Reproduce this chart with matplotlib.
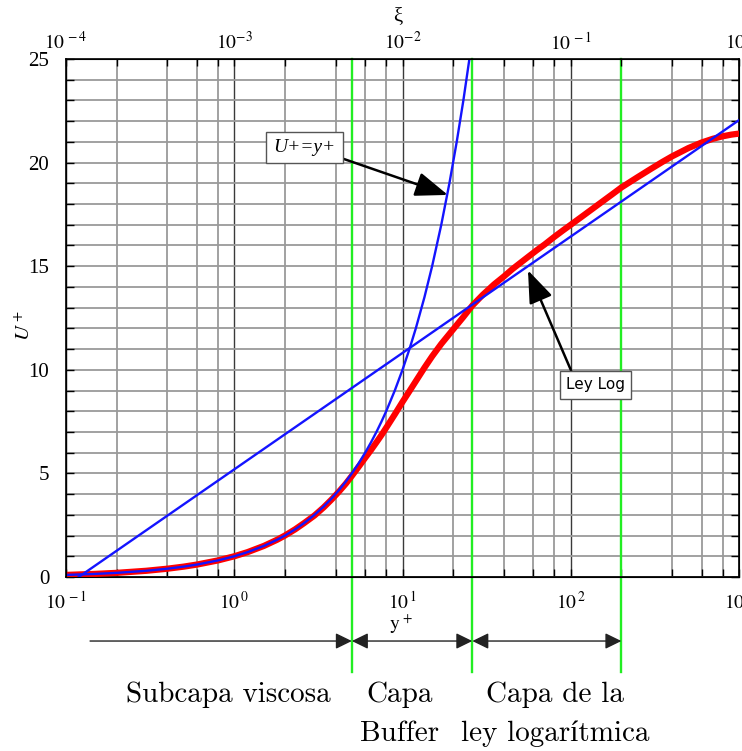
import matplotlib.pyplot as plt
from matplotlib.ticker import LogLocator, MultipleLocator, NullFormatter
from matplotlib.patches import ArrowStyle

plt.rcParams['font.family'] = ['Liberation Serif', 'DejaVu Serif']
plt.rcParams['mathtext.fontset'] = 'stix'

# ley de la pared U+ = y+ (subcapa viscosa)
yp_visc = [0.1, 0.15, 0.2, 0.3, 0.4, 0.5, 0.6, 0.8, 1, 1.2, 1.5, 1.8, 2, 2.3, 2.6, 3, 3.4,
           3.8, 4.2, 4.6, 5, 5.5, 6, 6.5, 7, 7.5, 8, 9, 10, 11, 12, 13.5, 15, 17, 19, 21,
           23, 25.5]
u_visc = [0.1, 0.15, 0.2, 0.3, 0.4, 0.5, 0.6, 0.8, 1, 1.2, 1.5, 1.8, 2, 2.3, 2.6, 3, 3.4,
          3.8, 4.2, 4.6, 5, 5.5, 6, 6.5, 7, 7.5, 8, 9, 10, 11, 12, 13.5, 15, 17, 19, 21,
          23, 25.5]

# ley logaritmica (recta en escala log)
yp_log = [0.119, 1000]
u_log = [0.0, 22.05]

# perfil de velocidad medido
yp_perfil = [0.1, 0.15, 0.2, 0.3, 0.4, 0.5, 0.6, 0.8, 1, 1.2, 1.5, 1.8, 2, 2.3, 2.6, 3,
             3.4, 3.8, 4.2, 4.6, 5, 5.5, 6, 6.5, 7, 7.5, 8, 9, 10, 11, 12, 13.5, 15, 17,
             20, 23, 26, 30, 35, 40, 45, 50, 56, 63, 70, 80, 90, 100, 120, 150, 175, 200,
             250, 300, 350, 400, 500, 600, 700, 800, 900, 1000]
u_perfil = [0.1, 0.15, 0.2, 0.3, 0.4, 0.5, 0.6, 0.8, 1.0, 1.2, 1.5, 1.8, 2.0, 2.3, 2.6,
            2.97, 3.36, 3.75, 4.13, 4.5, 4.88, 5.33, 5.75, 6.13, 6.5, 6.85, 7.2, 7.85,
            8.45, 8.97, 9.45, 10.1, 10.65, 11.25, 11.95, 12.55, 13.1, 13.62, 14.12,
            14.5, 14.86, 15.15, 15.46, 15.78, 16.05, 16.42, 16.73, 17.0, 17.47, 18.05,
            18.45, 18.8, 19.3, 19.7, 20.03, 20.3, 20.7, 20.97, 21.15, 21.27, 21.35, 21.4]

# limites entre capas
limites = [5, 26, 200]
inicio_viscosa = 0.139

x_ticks = [0.1, 1, 10, 100, 1000]
x_labels = [r'$10^{\,-1}$', r'$10^{\,0}$', r'$10^{\,1}$', r'$10^{\,2}$', r'$10^{\,3}$']
xi_ticks = [1e-4, 1e-3, 1e-2, 1e-1, 1]
xi_labels = [r'$10^{\,-4}$', r'$10^{-3}$', r'$10^{-2}$', r'$10^{\,-1}$', r'$10^{0}$']

fig = plt.figure(figsize=(7.42, 7.51), dpi=100)
ax = fig.add_axes([66 / 742, 174 / 751, 673 / 742, 518 / 751])

ax.plot(yp_perfil, u_perfil, color='#ff0000', lw=4.5, solid_capstyle='round',
        solid_joinstyle='round', zorder=3)
ax.plot(yp_visc, u_visc, color='#1414ff', lw=1.7, zorder=4)
ax.plot(yp_log, u_log, color='#1414ff', lw=1.7, zorder=4)

ax.set_xscale('log')
ax.set_xlim(0.1, 1000)
ax.set_ylim(0, 25)
ax.set_xticks(x_ticks)
ax.set_xticklabels(x_labels, fontsize=14)
ax.xaxis.set_minor_locator(LogLocator(base=10, subs=[2, 4, 6, 8]))
ax.xaxis.set_minor_formatter(NullFormatter())
ax.yaxis.set_major_locator(MultipleLocator(5))
ax.yaxis.set_minor_locator(MultipleLocator(1))
ax.tick_params(axis='y', labelsize=15, pad=12)
ax.tick_params(axis='x', pad=10)
ax.tick_params(which='both', direction='in', top=False, right=True, length=6, width=1)

# rejilla
ax.grid(which='major', axis='x', color='#3a3a3a', lw=1.0)
ax.grid(which='minor', axis='x', color='#9a9a9a', lw=1.3)
ax.grid(which='both', axis='y', color='#9a9a9a', lw=1.3)
ax.set_axisbelow(True)
for s in ax.spines.values():
    s.set_linewidth(1.2)

# eje superior xi
ax2 = ax.twiny()
ax2.set_xscale('log')
ax2.set_xlim(1e-4, 1)
ax2.set_xticks(xi_ticks)
ax2.set_xticklabels(xi_labels, fontsize=14)
ax2.xaxis.set_minor_locator(LogLocator(base=10, subs=[2, 4, 6, 8]))
ax2.xaxis.set_minor_formatter(NullFormatter())
ax2.tick_params(which='both', direction='in', length=5, width=1, pad=4)

fig.text(398 / 742, 1 - 17 / 751, 'ξ', ha='center', va='center', fontsize=15)
ax.text(-0.061, 0.486, r'$U^+$', transform=ax.transAxes, rotation=90,
        ha='center', va='center', fontsize=15)
fig.text(401 / 742, 1 - 624 / 751, r'$\mathrm{y}^{\,+}$', ha='center', va='center', fontsize=14)

# lineas verdes de separacion
trans = ax.get_xaxis_transform()
for x0 in limites:
    ax.plot([x0, x0], [-0.183, 1], transform=trans, color='#22ee22', lw=1.7,
            clip_on=False, zorder=2.5)

# flechas de las capas
y_fl = -0.1236
punta = ArrowStyle('-|>', head_length=0.45, head_width=0.22)
doble = ArrowStyle('<|-|>', head_length=0.45, head_width=0.22)
ax.annotate('', xy=(limites[0], y_fl), xytext=(inicio_viscosa, y_fl), xycoords=trans,
            textcoords=trans, annotation_clip=False,
            arrowprops=dict(arrowstyle=punta, color='#222222', lw=1, mutation_scale=22,
                            shrinkA=0, shrinkB=0))
ax.annotate('', xy=(limites[1], y_fl), xytext=(limites[0], y_fl), xycoords=trans,
            textcoords=trans, annotation_clip=False,
            arrowprops=dict(arrowstyle=doble, color='#222222', lw=1, mutation_scale=22,
                            shrinkA=0, shrinkB=0))
ax.annotate('', xy=(limites[2], y_fl), xytext=(limites[1], y_fl), xycoords=trans,
            textcoords=trans, annotation_clip=False,
            arrowprops=dict(arrowstyle=doble, color='#222222', lw=1, mutation_scale=22,
                            shrinkA=0, shrinkB=0))

# etiquetas con flecha
grande = ArrowStyle('-|>', head_length=0.8, head_width=0.3)
ax.annotate('U+=y+', xy=(18.6, 18.44), xytext=(2.6, 20.73), fontsize=14,
            style='italic', ha='center', va='center', zorder=6,
            bbox=dict(boxstyle='square,pad=0.38', fc='white', ec='#555555', lw=1),
            arrowprops=dict(arrowstyle=grande, color='black', lw=1.8, mutation_scale=25,
                            relpos=(1, 0), shrinkA=0, shrinkB=0))
ax.annotate('Ley Log', xy=(55.7, 14.8), xytext=(141, 9.27), fontsize=11,
            family='DejaVu Sans', ha='center', va='center', zorder=6,
            bbox=dict(boxstyle='square,pad=0.4', fc='white', ec='#555555', lw=1),
            arrowprops=dict(arrowstyle=grande, color='black', lw=1.8, mutation_scale=25,
                            relpos=(0.13, 1), shrinkA=0, shrinkB=0))

# nombres de las capas
fuente = ['cmr10', 'Liberation Serif']
fig.text(228 / 742, 1 - 695 / 751, 'Subcapa viscosa', ha='center', va='center',
         fontsize=21, family=fuente)
fig.text(400 / 742, 1 - 695 / 751, 'Capa', ha='center', va='center', fontsize=21, family=fuente)
fig.text(400 / 742, 1 - 734 / 751, 'Buffer', ha='center', va='center', fontsize=21, family=fuente)
fig.text(555 / 742, 1 - 695 / 751, 'Capa de la', ha='center', va='center', fontsize=21,
         family=fuente)
fig.text(555 / 742, 1 - 734 / 751, 'ley logarítmica', ha='center', va='center', fontsize=21,
         family=fuente)

fig.savefig('out.png', dpi=100)
